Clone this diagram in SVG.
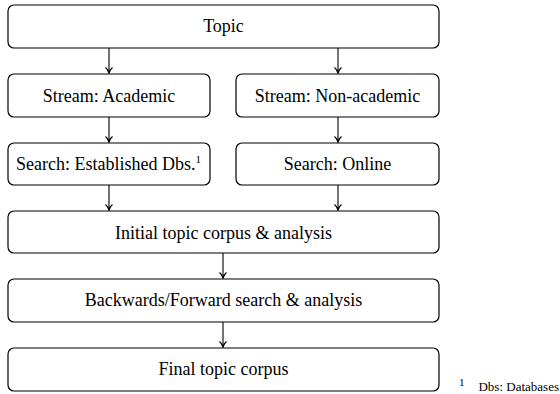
<svg xmlns="http://www.w3.org/2000/svg" width="560" height="394" viewBox="0 0 560 394">
<style>
.box{fill:#fff;stroke:#000;stroke-width:1.2}
.t{font-family:"Liberation Serif","Times New Roman",serif;font-size:18px;fill:#000;text-anchor:middle}
.c{stroke:#000;stroke-width:1.1;fill:none;marker-end:url(#ah)}
.fn{font-family:"Liberation Serif","Times New Roman",serif;fill:#000}
</style>
<defs>
<marker id="ah" markerWidth="9" markerHeight="9" refX="7" refY="4.5" orient="auto" markerUnits="userSpaceOnUse">
<path d="M1.5,1 Q3.5,3.5 7,4.5 Q3.5,5.5 1.5,8" fill="none" stroke="#000" stroke-width="1.2"/>
</marker>
</defs>
<rect width="560" height="394" fill="#fff"/>
<g id="connectors">
<line class="c" x1="109" y1="48" x2="109" y2="73"/>
<line class="c" x1="338" y1="48" x2="338" y2="73"/>
<line class="c" x1="109" y1="117" x2="109" y2="142"/>
<line class="c" x1="338" y1="117" x2="338" y2="142"/>
<line class="c" x1="109" y1="185" x2="109" y2="210"/>
<line class="c" x1="338" y1="185" x2="338" y2="210"/>
<line class="c" x1="223" y1="253" x2="223" y2="278"/>
<line class="c" x1="223" y1="322" x2="223" y2="347"/>
</g>
<g id="topic">
<rect class="box" x="8" y="5" width="431" height="43" rx="6"/>
<text class="t" x="223.5" y="31.5">Topic</text>
</g>
<g id="stream-academic">
<rect class="box" x="8" y="74" width="202" height="43" rx="6"/>
<text class="t" x="109" y="101.5">Stream: Academic</text>
</g>
<g id="stream-nonacademic">
<rect class="box" x="236" y="74" width="203" height="43" rx="6"/>
<text class="t" x="337.5" y="101.5">Stream: Non-academic</text>
</g>
<g id="search-established">
<rect class="box" x="8" y="143" width="202" height="42" rx="6"/>
<text class="t" x="108.5" y="170">Search: Established Dbs.<tspan font-size="11" dy="-7">1</tspan></text>
</g>
<g id="search-online">
<rect class="box" x="236" y="143" width="203" height="42" rx="6"/>
<text class="t" x="337.5" y="170">Search: Online</text>
</g>
<g id="initial">
<rect class="box" x="8" y="211" width="431" height="42" rx="6"/>
<text class="t" x="223.5" y="238.5">Initial topic corpus &amp; analysis</text>
</g>
<g id="backwards">
<rect class="box" x="8" y="279" width="431" height="43" rx="6"/>
<text class="t" x="223.5" y="306">Backwards/Forward search &amp; analysis</text>
</g>
<g id="final">
<rect class="box" x="8" y="348" width="431" height="43" rx="6"/>
<text class="t" x="223.5" y="375">Final topic corpus</text>
</g>
<g id="footnote">
<text class="fn" x="459" y="386" font-size="11">1</text>
<text class="fn" x="559" y="391" font-size="13" text-anchor="end">Dbs: Databases</text>
</g>
</svg>
